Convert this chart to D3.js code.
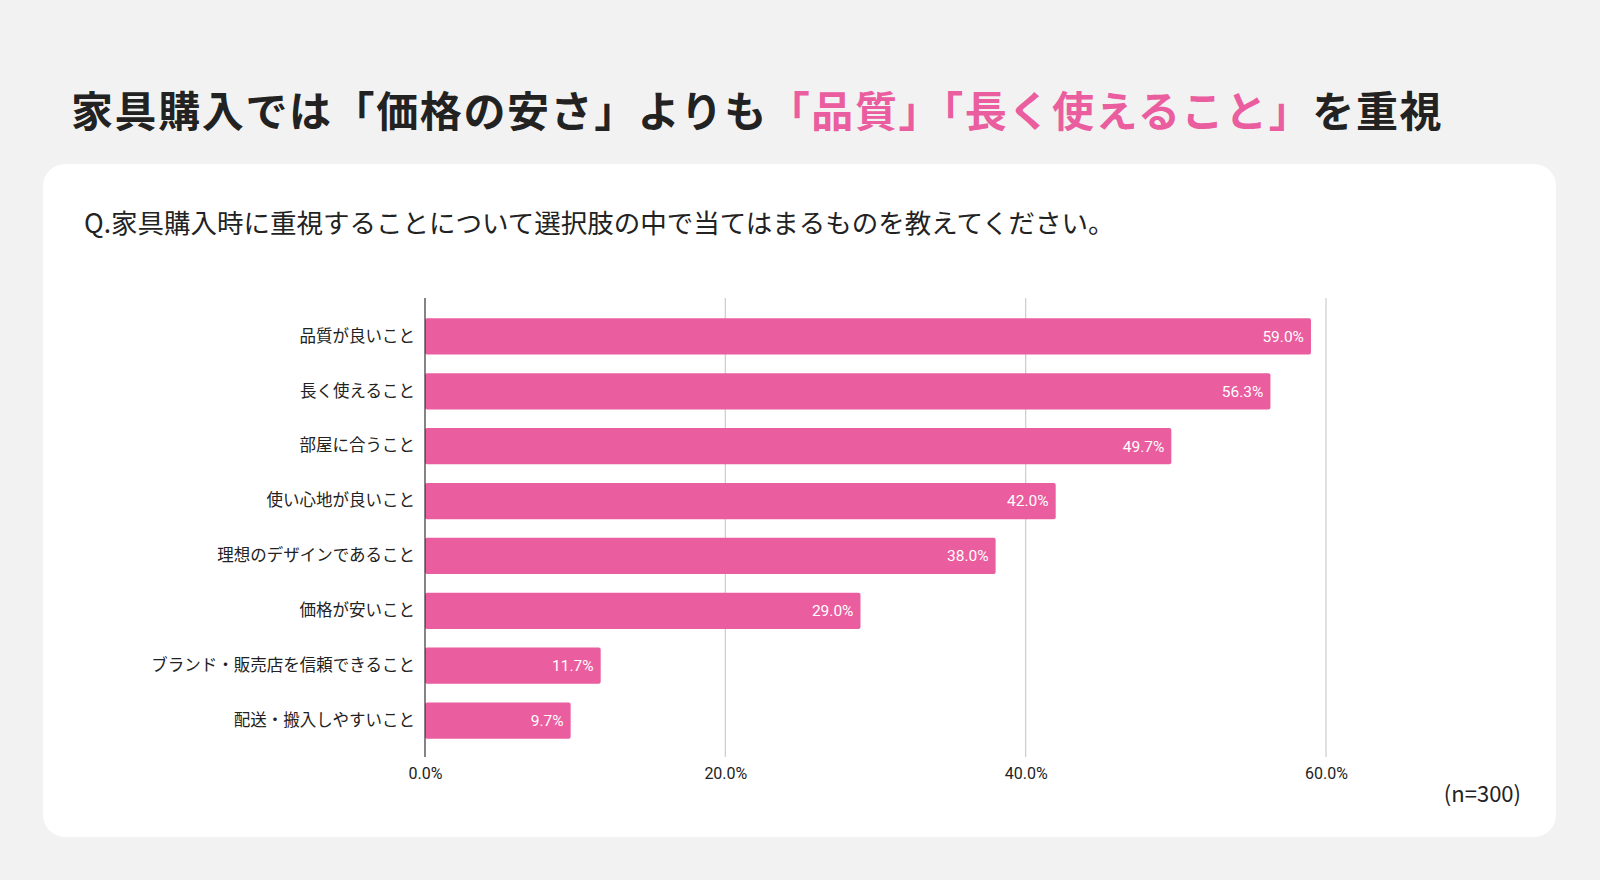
<!DOCTYPE html>
<html><head><meta charset="utf-8">
<script src="https://cdn.jsdelivr.net/npm/d3@7"></script>
<style>body{margin:0;background:#f2f2f2;font-family:"Noto Sans CJK JP","Noto Sans",sans-serif}</style>
</head><body>
<script>
const categories = ["品質が良いこと","長く使えること","部屋に合うこと","使い心地が良いこと","理想のデザインであること","価格が安いこと","ブランド・販売店を信頼できること","配送・搬入しやすいこと"];
const values = [59.0,56.3,49.7,42.0,38.0,29.0,11.7,9.7];
const ticks = [0,20,40,60];
const pink = "#ea5d9e";

const svg = d3.select("body").append("svg").attr("width",1600).attr("height",880);
svg.append("rect").attr("width",1600).attr("height",880).attr("fill","#f2f2f2");

// 見出し
const title = svg.append("text").attr("x",71).attr("y",127)
  .style("font-size","42px").style("font-weight","bold").style("letter-spacing","1.6px").attr("fill","#222");
title.append("tspan").text("家具購入では「価格の安さ」よりも");
title.append("tspan").attr("fill",pink).text("「品質」「長く使えること」");
title.append("tspan").text("を重視");

svg.append("rect").attr("x",43).attr("y",164).attr("width",1513).attr("height",673)
  .attr("rx",22).attr("fill","#fff");

svg.append("text").attr("x",84).attr("y",233).style("font-size","26.5px").attr("fill","#222")
  .text("Q.家具購入時に重視することについて選択肢の中で当てはまるものを教えてください。");

const x = d3.scaleLinear().domain([0,60]).range([425,1326]);
const y = d3.scaleBand().domain(categories).range([309,748]).paddingInner(0.34).paddingOuter(0.17);

svg.append("g").selectAll("line").data(ticks.slice(1)).join("line")
  .attr("x1",d=>x(d)).attr("x2",d=>x(d)).attr("y1",298).attr("y2",757)
  .attr("stroke","#ccc").attr("stroke-width",1.2);

svg.append("g").selectAll("rect").data(values).join("rect")
  .attr("x",x(0)).attr("y",(d,i)=>y(categories[i]))
  .attr("width",d=>x(d)-x(0)).attr("height",y.bandwidth())
  .attr("rx",2).attr("fill",pink);

svg.append("g").selectAll("text").data(values).join("text")
  .attr("x",d=>x(d)-7).attr("y",(d,i)=>y(categories[i])+y.bandwidth()/2)
  .attr("dy","0.35em").attr("text-anchor","end").attr("fill","#fff")
  .style("font-size","15.5px").style("font-family","Roboto,sans-serif")
  .text(d=>d.toFixed(1)+"%");

const yAxis = svg.append("g").attr("transform",`translate(${x(0)},0)`)
  .call(d3.axisLeft(y).tickSize(0).tickPadding(10));
yAxis.select(".domain").remove();
yAxis.selectAll("text").style("font-size","16.5px").style("font-family","'Noto Sans CJK JP'").attr("fill","#222");
svg.append("line").attr("x1",x(0)).attr("x2",x(0)).attr("y1",298).attr("y2",757).attr("stroke","#333").attr("stroke-width",1.2);

const xAxis = svg.append("g").attr("transform","translate(0,758)")
  .call(d3.axisBottom(x).tickValues(ticks).tickSize(0).tickPadding(10).tickFormat(d=>d.toFixed(1)+"%"));
xAxis.select(".domain").remove();
xAxis.selectAll("text").style("font-size","16px").style("font-family","Roboto,sans-serif").attr("fill","#222");

svg.append("text").attr("x",1521).attr("y",802).attr("text-anchor","end")
  .style("font-size","22px").attr("fill","#222").text("(n=300)");
</script>
</body></html>
